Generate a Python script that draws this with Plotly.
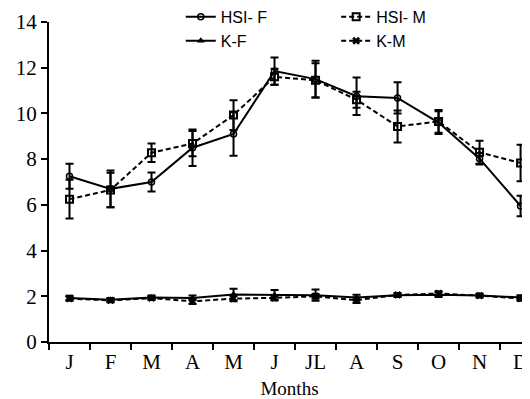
import plotly.graph_objects as go

months = ["J", "F", "M", "A", "M ", "J ", "JL", "A ", "S", "O", "N", "D"]
month_labels = ["J", "F", "M", "A", "M", "J", "JL", "A", "S", "O", "N", "D"]

hsi_f = [7.25, 6.7, 7.0, 8.5, 9.1, 11.85, 11.5, 10.75, 10.68, 9.6, 8.02, 5.95]
hsi_f_err = [0.55, 0.8, 0.42, 0.8, 0.95, 0.6, 0.8, 0.82, 0.68, 0.5, 0.25, 0.45]
hsi_m = [6.25, 6.65, 8.28, 8.68, 9.93, 11.6, 11.45, 10.6, 9.43, 9.65, 8.3, 7.83]
hsi_m_err = [0.85, 0.75, 0.4, 0.55, 0.65, 0.35, 0.75, 0.35, 0.7, 0.5, 0.5, 0.8]
k_f = [1.92, 1.85, 1.95, 1.93, 2.08, 2.05, 2.05, 1.95, 2.05, 2.07, 2.03, 1.95]
k_f_err = [0.1, 0.08, 0.08, 0.1, 0.25, 0.22, 0.25, 0.12, 0.08, 0.1, 0.08, 0.1]
k_m = [1.9, 1.82, 1.92, 1.78, 1.9, 1.93, 2.0, 1.83, 2.06, 2.12, 2.03, 1.9]
k_m_err = [0.08, 0.08, 0.08, 0.12, 0.12, 0.1, 0.1, 0.12, 0.06, 0.1, 0.06, 0.1]

DASH = "5px,3px"
SERIF = "Liberation Serif"

# The page body has an 8px margin, so the figure is 8px smaller on each side
W, H = 522, 391

def err(e):
    return dict(type="data", array=e, visible=True, color="black", thickness=2, width=4)

fig = go.Figure()
fig.add_trace(go.Scatter(x=months, y=hsi_f, error_y=err(hsi_f_err), name="HSI- F",
                         mode="lines+markers", line=dict(color="black", width=2),
                         marker=dict(symbol="circle-open", size=6, color="black", line=dict(width=1.5)),
                         legend="legend"))
fig.add_trace(go.Scatter(x=months, y=hsi_m, error_y=err(hsi_m_err), name="HSI- M",
                         mode="lines+markers", line=dict(color="black", width=2, dash=DASH),
                         marker=dict(symbol="square-open", size=7, color="black", line=dict(width=2)),
                         legend="legend2"))
fig.add_trace(go.Scatter(x=months, y=k_f, error_y=err(k_f_err), name="K-F",
                         mode="lines+markers", line=dict(color="black", width=2),
                         marker=dict(symbol="triangle-up", size=7, color="black"),
                         legend="legend3"))
fig.add_trace(go.Scatter(x=months, y=k_m, error_y=err(k_m_err), name="K-M",
                         mode="lines+markers", line=dict(color="black", width=2, dash=DASH),
                         marker=dict(symbol="x", size=7, color="black"),
                         legend="legend4"))

legend_font = dict(family="Liberation Sans", size=16, color="black")

def leg(x, y):
    return dict(x=x, y=y, xanchor="left", yanchor="top", font=legend_font,
                bgcolor="rgba(0,0,0,0)", tracegroupgap=0)

fig.update_layout(
    width=W, height=H,
    font=dict(family=SERIF, size=21, color="black"),
    margin=dict(l=41, r=0, t=14, b=57, autoexpand=False),
    paper_bgcolor="white", plot_bgcolor="white",
    showlegend=True,
    legend=leg(0.274, 1.069),
    legend2=leg(0.597, 1.069),
    legend3=leg(0.274, 0.994),
    legend4=leg(0.597, 0.994),
    xaxis=dict(
        type="category", categoryorder="array", categoryarray=months,
        tickmode="array", tickvals=months, ticktext=month_labels, automargin=False,
        range=[-0.5, 11.23], showgrid=False, zeroline=False,
        showline=True, linecolor="black", linewidth=2,
        ticks="outside", tickson="boundaries", ticklen=6, tickwidth=2, tickcolor="black",
        tickfont=dict(family=SERIF, size=21, color="black"),
        title=dict(text="Months", standoff=8,
                   font=dict(family=SERIF, size=19, color="black")),
    ),
    yaxis=dict(
        range=[0, 14], tickmode="array", tickvals=[0, 2, 4, 6, 8, 10, 12, 14], automargin=False,
        showgrid=False, zeroline=False,
        showline=True, linecolor="black", linewidth=2,
        ticks="outside", ticklen=6, tickwidth=2, tickcolor="black",
        tickfont=dict(family=SERIF, size=21, color="black"),
    ),
)

fig.write_html("out.html")
